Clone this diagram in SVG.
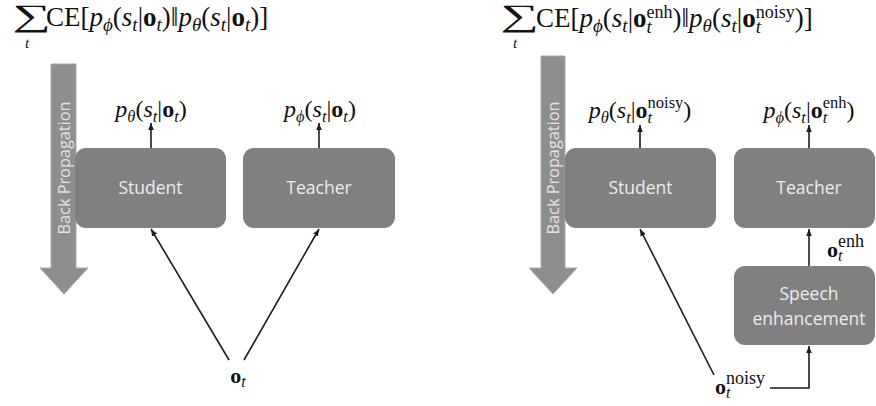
<svg xmlns="http://www.w3.org/2000/svg" width="876" height="406" viewBox="0 0 876 406">
<defs>
<style>
.m{font-family:"Liberation Serif","DejaVu Serif",serif;fill:#111}
.i{font-style:italic}
.b{font-weight:bold}
.box{fill:#808080}
.bt{font-family:"Open Sans","Liberation Sans",sans-serif;font-size:17.5px;fill:#ececec;text-anchor:middle}
.bp{fill:#8e8e8e;stroke:#a9a9a9;stroke-width:1}
.bpt{font-family:"Open Sans","Liberation Sans",sans-serif;font-size:16.3px;fill:#e4e4e4;text-anchor:middle}
.ln{fill:none;stroke:#1c1c1c;stroke-width:1.6}
</style>
<marker id="ah" viewBox="0 0 10 10" refX="10" refY="5" markerWidth="7" markerHeight="7" markerUnits="userSpaceOnUse" orient="auto"><path d="M0,1 L10,5 L0,9 z" fill="#1c1c1c"/></marker>
</defs>
<rect width="876" height="406" fill="#ffffff"/>

<!-- LEFT PANEL -->
<g id="formula-left">
<text class="m" transform="translate(12,26) scale(1.75,1)" font-size="31">∑</text>
<text class="m i" x="27" y="48" font-size="15" text-anchor="middle">t</text>
<text class="m" x="46" y="26" font-size="27">CE[<tspan class="i">p</tspan><tspan class="i" font-size="19" dy="5">ϕ</tspan><tspan dy="-5">(</tspan><tspan class="i">s</tspan><tspan class="i" font-size="19" dy="5">t</tspan><tspan dy="-5">|</tspan><tspan class="b">o</tspan><tspan class="i" font-size="19" dy="5">t</tspan><tspan dy="-5">)‖</tspan><tspan class="i">p</tspan><tspan class="i" font-size="19" dy="5">θ</tspan><tspan dy="-5">(</tspan><tspan class="i">s</tspan><tspan class="i" font-size="19" dy="5">t</tspan><tspan dy="-5">|</tspan><tspan class="b">o</tspan><tspan class="i" font-size="19" dy="5">t</tspan><tspan dy="-5">)]</tspan></text>
</g>

<g id="backprop-left">
<path class="bp" d="M51,64 H76 V268 H88 L64,294 L40,268 H51 Z"/>
<text class="bpt" transform="translate(70,168) rotate(-90)">Back Propagation</text>
</g>

<g id="student-left">
<rect class="box" x="75" y="148" width="151" height="80" rx="11"/>
<text class="bt" x="150.5" y="194">Student</text>
</g>

<g id="teacher-left">
<rect class="box" x="243" y="148" width="152" height="80" rx="11"/>
<text class="bt" x="319" y="194">Teacher</text>
</g>

<g id="label-student-left">
<text class="m" x="151" y="117" font-size="24" text-anchor="middle"><tspan class="i">p</tspan><tspan class="i" font-size="16.5" dy="4.5">θ</tspan><tspan dy="-4.5">(</tspan><tspan class="i">s</tspan><tspan class="i" font-size="16.5" dy="4.5">t</tspan><tspan dy="-4.5">|</tspan><tspan class="b">o</tspan><tspan class="i" font-size="16.5" dy="4.5">t</tspan><tspan dy="-4.5">)</tspan></text>
</g>
<g id="label-teacher-left">
<text class="m" x="320" y="117" font-size="24" text-anchor="middle"><tspan class="i">p</tspan><tspan class="i" font-size="16.5" dy="4.5">ϕ</tspan><tspan dy="-4.5">(</tspan><tspan class="i">s</tspan><tspan class="i" font-size="16.5" dy="4.5">t</tspan><tspan dy="-4.5">|</tspan><tspan class="b">o</tspan><tspan class="i" font-size="16.5" dy="4.5">t</tspan><tspan dy="-4.5">)</tspan></text>
</g>
<g id="input-left">
<text class="m" x="238" y="383" font-size="22" text-anchor="middle"><tspan class="b">o</tspan><tspan class="i" font-size="16" dy="4">t</tspan></text>
</g>

<!-- RIGHT PANEL -->
<g id="formula-right">
<text class="m" transform="translate(500,26) scale(1.75,1)" font-size="31">∑</text>
<text class="m i" x="515" y="48" font-size="15" text-anchor="middle">t</text>
<text class="m" x="536" y="27" font-size="27">CE[<tspan class="i">p</tspan><tspan class="i" font-size="19" dy="5">ϕ</tspan><tspan dy="-5">(</tspan><tspan class="i">s</tspan><tspan class="i" font-size="19" dy="5">t</tspan><tspan dy="-5">|</tspan><tspan class="b">o</tspan><tspan font-size="18" dy="-9">enh</tspan><tspan class="i" font-size="19" dx="-26" dy="15">t</tspan><tspan dx="20.7" dy="-6">)‖</tspan><tspan class="i">p</tspan><tspan class="i" font-size="19" dy="5">θ</tspan><tspan dy="-5">(</tspan><tspan class="i">s</tspan><tspan class="i" font-size="19" dy="5">t</tspan><tspan dy="-5">|</tspan><tspan class="b">o</tspan><tspan font-size="18" dy="-9">noisy</tspan><tspan class="i" font-size="19" dx="-39" dy="15">t</tspan><tspan dx="33.7" dy="-6">)]</tspan></text>
</g>

<g id="backprop-right">
<path class="bp" d="M541,56 H565 V268 H577 L553,294 L529,268 H541 Z"/>
<text class="bpt" transform="translate(559,168) rotate(-90)">Back Propagation</text>
</g>

<g id="student-right">
<rect class="box" x="565" y="148" width="151" height="80" rx="11"/>
<text class="bt" x="640.5" y="194">Student</text>
</g>

<g id="teacher-right">
<rect class="box" x="734" y="148" width="141" height="80" rx="11"/>
<text class="bt" x="809" y="194">Teacher</text>
</g>

<g id="speech-enhancement">
<rect class="box" x="734" y="266" width="141" height="79" rx="11"/>
<text class="bt" x="809" y="300">Speech</text>
<text class="bt" x="809" y="325">enhancement</text>
</g>

<g id="label-student-right">
<text class="m" x="640" y="118" font-size="24" text-anchor="middle"><tspan class="i">p</tspan><tspan class="i" font-size="16.5" dy="4.5">θ</tspan><tspan dy="-4.5">(</tspan><tspan class="i">s</tspan><tspan class="i" font-size="16.5" dy="4.5">t</tspan><tspan dy="-4.5">|</tspan><tspan class="b">o</tspan><tspan font-size="16.5" dy="-10">noisy</tspan><tspan class="i" font-size="16.5" dx="-35.8" dy="15">t</tspan><tspan dx="31.2" dy="-5">)</tspan></text>
</g>
<g id="label-teacher-right">
<text class="m" x="809" y="118" font-size="24" text-anchor="middle"><tspan class="i">p</tspan><tspan class="i" font-size="16.5" dy="4.5">ϕ</tspan><tspan dy="-4.5">(</tspan><tspan class="i">s</tspan><tspan class="i" font-size="16.5" dy="4.5">t</tspan><tspan dy="-4.5">|</tspan><tspan class="b">o</tspan><tspan font-size="16.5" dy="-10">enh</tspan><tspan class="i" font-size="16.5" dx="-23.8" dy="15">t</tspan><tspan dx="19.2" dy="-5">)</tspan></text>
</g>
<g id="label-enh">
<text class="m" x="827" y="257" font-size="22"><tspan class="b">o</tspan><tspan font-size="18" dy="-10">enh</tspan><tspan class="i" font-size="16" dx="-26" dy="14">t</tspan></text>
</g>
<g id="input-right">
<text class="m" x="715" y="394" font-size="22"><tspan class="b">o</tspan><tspan font-size="18" dy="-10">noisy</tspan><tspan class="i" font-size="16" dx="-39" dy="14">t</tspan></text>
</g>

<!-- CONNECTORS -->
<g id="connectors">
<line class="ln" x1="151" y1="148" x2="151" y2="123" marker-end="url(#ah)"/>
<line class="ln" x1="319" y1="148" x2="319" y2="123" marker-end="url(#ah)"/>
<line class="ln" x1="229" y1="360" x2="151" y2="229" marker-end="url(#ah)"/>
<line class="ln" x1="244" y1="360" x2="319" y2="229" marker-end="url(#ah)"/>
<line class="ln" x1="640" y1="148" x2="640" y2="125" marker-end="url(#ah)"/>
<line class="ln" x1="809" y1="148" x2="809" y2="125" marker-end="url(#ah)"/>
<line class="ln" x1="714" y1="375" x2="640" y2="229" marker-end="url(#ah)"/>
<line class="ln" x1="809" y1="266" x2="809" y2="229" marker-end="url(#ah)"/>
<polyline class="ln" points="770,388 809,388 809,346" marker-end="url(#ah)"/>
</g>
</svg>
